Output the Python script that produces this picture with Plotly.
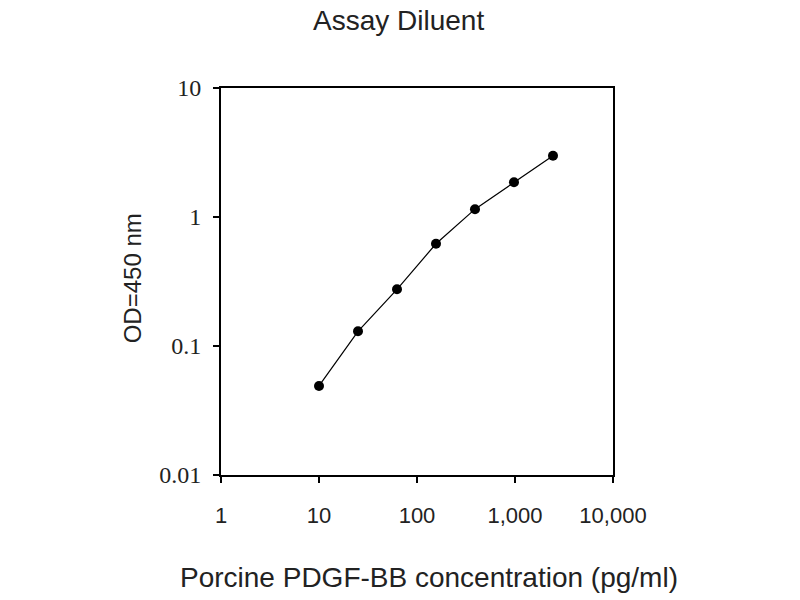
import plotly.graph_objects as go

concentration = [10, 25, 62.5, 156.25, 390.6, 976.6, 2441.4]
od450 = [0.049, 0.13, 0.275, 0.62, 1.15, 1.86, 2.98]

x_tickvals = [1, 10, 100, 1000, 10000]
x_ticktext = ["1", "10", "100", "1,000", "10,000"]
y_tickvals = [0.01, 0.1, 1, 10]
y_ticktext = ["0.01", "0.1", "1", "10"]

fig = go.Figure()
fig.add_trace(go.Scatter(
    x=concentration, y=od450, mode="lines+markers",
    line=dict(color="black", width=1.2),
    marker=dict(color="black", size=10, symbol="circle"),
    showlegend=False,
))

sans = "Liberation Sans, Arial"
fig.update_layout(
    width=800, height=600,
    margin=dict(l=221, r=187, t=88, b=125, autoexpand=False),
    paper_bgcolor="white", plot_bgcolor="white",
    annotations=[
        dict(text="Assay Diluent", x=(398 - 221) / 392, y=(475 - 20) / 387,
             xref="paper", yref="paper", xanchor="center", yanchor="middle",
             showarrow=False, font=dict(family=sans, size=28, color="#222")),
        dict(text="Porcine PDGF-BB concentration (pg/ml)", x=(429 - 221) / 392, y=-0.266,
             xref="paper", yref="paper", xanchor="center", yanchor="middle",
             showarrow=False, font=dict(family=sans, size=28, color="#222")),
        dict(text="OD=450 nm", x=-0.225, y=(475 - 278.5) / 387, textangle=-90,
             xref="paper", yref="paper", xanchor="center", yanchor="middle",
             showarrow=False, font=dict(family=sans, size=24, color="#222")),
    ],
)
fig.update_xaxes(
    type="log", range=[0, 4], tickvals=x_tickvals, ticktext=x_ticktext,
    showline=True, linecolor="black", linewidth=2, mirror=True,
    ticks="outside", ticklen=6, tickwidth=2, tickcolor="black",
    showgrid=False, zeroline=False, ticklabelstandoff=14, automargin=False,
    tickfont=dict(family=sans, size=22, color="#222"),
)
fig.update_yaxes(
    type="log", range=[-2, 1], tickvals=y_tickvals, ticktext=y_ticktext,
    showline=True, linecolor="black", linewidth=2, mirror=True,
    ticks="outside", ticklen=6, tickwidth=2, tickcolor="black",
    showgrid=False, zeroline=False, ticklabelstandoff=7, automargin=False,
    tickfont=dict(family="Liberation Serif, Times New Roman", size=24, color="#222"),
)

fig.write_html("out.html", config={"displayModeBar": False},
               post_script="document.body.style.margin='0';")
